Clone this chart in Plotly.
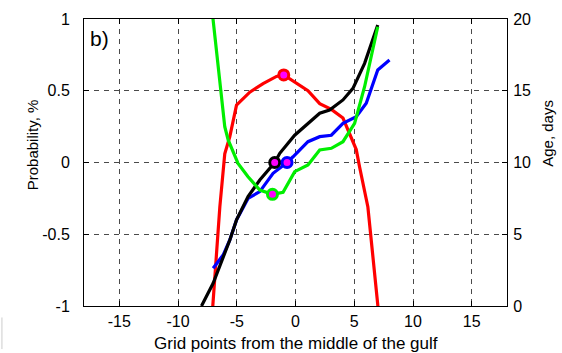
import plotly.graph_objects as go

# Probability (left axis, %)
red_x = [-7.3, -7.01, -6.44, -6.02, -5.59, -5.02, -3.89, -2.76, -1.62, -1.0, -0.07, 1.06, 2.06, 3.05, 4.04, 4.6, 5.17, 5.45, 6.16, 7.0, 7.1]
red_prob = [-1.3, -0.99, -0.31, 0.06, 0.18, 0.40, 0.49, 0.55, 0.60, 0.61, 0.56, 0.50, 0.41, 0.37, 0.31, 0.20, 0.09, -0.03, -0.31, -0.99, -1.1]

# Age (right axis, days)
black_x = [-8.0, -7.01, -5.59, -5.02, -4.04, -3.04, -1.77, -1.34, -0.07, 1.06, 2.06, 2.9, 4.04, 4.89, 5.88, 7.0]
black_age = [0.0, 1.58, 4.6, 6.0, 7.62, 8.78, 10.0, 10.64, 11.9, 12.73, 13.43, 13.66, 14.36, 15.17, 16.91, 19.58]

blue_x = [-7.01, -6.16, -5.59, -5.02, -4.04, -3.04, -1.91, -0.72, -0.21, 1.06, 2.06, 3.05, 4.04, 5.17, 6.02, 7.0, 8.0]
blue_age = [2.63, 3.55, 4.6, 6.0, 7.5, 7.97, 9.25, 10.0, 10.4, 11.45, 11.8, 11.9, 12.73, 13.19, 14.13, 16.45, 17.14]

green_x = [-7.1, -6.02, -5.73, -4.89, -4.04, -3.04, -1.96, -1.06, -0.07, 1.06, 2.06, 3.05, 4.04, 5.03, 5.88, 7.0]
green_age = [20.6, 12.5, 11.57, 9.94, 9.01, 8.08, 7.78, 7.92, 9.36, 9.83, 10.87, 10.99, 11.45, 12.73, 15.28, 19.46]

# Highlighted points
red_mark = (-1.0, 0.61)
black_mark = (-1.77, 10.0)
blue_mark = (-0.72, 10.0)
green_mark = (-1.96, 7.78)

x_ticks = [-15, -10, -5, 0, 5, 10, 15]
x_labels = ["-15", "-10", "-5", "0", "5", "10", "15"]
prob_ticks = [-1, -0.5, 0, 0.5, 1]
prob_labels = ["-1", "-0.5", "0", "0.5", "1"]
age_ticks = [0, 5, 10, 15, 20]

FONT = "Liberation Sans, Arial, sans-serif"
LW = 3.2

fig = go.Figure()
fig.add_trace(go.Scatter(x=red_x, y=red_prob, mode="lines", line=dict(color="#ff0000", width=LW), yaxis="y"))
fig.add_trace(go.Scatter(x=blue_x, y=blue_age, mode="lines", line=dict(color="#0000ff", width=LW), yaxis="y2"))
fig.add_trace(go.Scatter(x=black_x, y=black_age, mode="lines", line=dict(color="#000000", width=LW), yaxis="y2"))
fig.add_trace(go.Scatter(x=green_x, y=green_age, mode="lines", line=dict(color="#00ee00", width=LW), yaxis="y2"))

mk = dict(size=10, color="#ff00ff")
fig.add_trace(go.Scatter(x=[red_mark[0]], y=[red_mark[1]], mode="markers", yaxis="y",
                         marker=dict(**mk, line=dict(color="#ff0000", width=3))))
fig.add_trace(go.Scatter(x=[black_mark[0]], y=[black_mark[1]], mode="markers", yaxis="y2",
                         marker=dict(**mk, line=dict(color="#000000", width=3))))
fig.add_trace(go.Scatter(x=[blue_mark[0]], y=[blue_mark[1]], mode="markers", yaxis="y2",
                         marker=dict(**mk, line=dict(color="#0000ff", width=3))))
fig.add_trace(go.Scatter(x=[green_mark[0]], y=[green_mark[1]], mode="markers", yaxis="y2",
                         marker=dict(**mk, line=dict(color="#00ee00", width=3))))

grid = dict(showgrid=True, gridcolor="#4a4a4a", gridwidth=1, griddash="5px,5px")

fig.update_layout(
    width=562, height=353,
    margin=dict(l=84, r=55, t=19, b=47),
    paper_bgcolor="white", plot_bgcolor="white",
    showlegend=False,
    font=dict(family=FONT, size=16, color="black"),
    xaxis=dict(range=[-18, 18], tickvals=x_ticks, ticktext=x_labels, ticks="inside", ticklen=5,
               tickcolor="black", showline=True, linecolor="black", linewidth=1, mirror="ticks",
               zeroline=False, ticklabelstandoff=1, tickfont=dict(size=16), **grid),
    yaxis=dict(range=[-1, 1], tickvals=prob_ticks, ticktext=prob_labels, ticks="inside", ticklen=5,
               tickcolor="black", showline=True, linecolor="black", linewidth=1, zeroline=False,
               ticklabelstandoff=10, tickfont=dict(size=16), **grid),
    yaxis2=dict(range=[0, 20], tickvals=age_ticks, overlaying="y", side="right", ticks="inside",
                ticklen=5, tickcolor="black", showline=True, linecolor="black", linewidth=1,
                showgrid=False, zeroline=False, ticklabelstandoff=2, tickfont=dict(size=16)),
)

fig.add_annotation(text="Grid points from the middle of the gulf", xref="paper", yref="paper",
                   x=0.5, y=0, yshift=-37, yanchor="middle", xanchor="center", showarrow=False,
                   font=dict(size=17, family=FONT))
fig.add_annotation(text="Probability, %", xref="paper", yref="paper", x=0, xshift=-52,
                   xanchor="center", yanchor="middle",
                   y=0.56, textangle=-90, showarrow=False, font=dict(size=15, family=FONT))
fig.add_annotation(text="Age, days", xref="paper", yref="paper", x=1, xshift=41,
                   xanchor="center", yanchor="middle",
                   y=0.60, textangle=-90, showarrow=False, font=dict(size=15, family=FONT))
fig.add_annotation(text="b)", xref="paper", yref="paper", x=0.01, y=0.98, xanchor="left",
                   yanchor="top", showarrow=False, font=dict(size=21, family=FONT))
fig.add_shape(type="line", xref="paper", yref="paper", x0=-0.194, x1=-0.194, y0=-0.04, y1=-0.15,
              line=dict(color="#cccccc", width=1))

fig.write_html("out.html")
